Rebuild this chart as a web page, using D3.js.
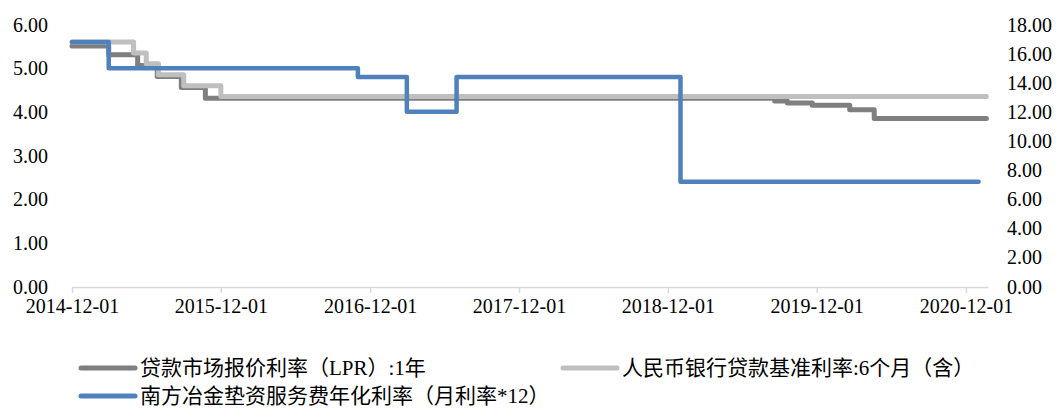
<!DOCTYPE html>
<html>
<head>
<meta charset="utf-8">
<script src="https://cdn.jsdelivr.net/npm/d3@7"></script>
<style>
  body { margin: 0; background: #fff; }
  text { font-family: "Liberation Serif", "Times New Roman", "Noto Sans CJK SC", serif; fill: #000; }
</style>
</head>
<body>
<div class="chart"></div>
<script>
// series: step data (date of change, value)
const lprDates = ["2014-12-01","2015-03-01","2015-05-11","2015-06-28","2015-08-26","2015-10-24","2019-08-20","2019-09-20","2019-11-20","2020-02-20","2020-04-20","2021-01-20"];
const lprValues = [5.51,5.31,5.06,4.81,4.56,4.31,4.25,4.20,4.15,4.05,3.85,3.85];

const baseDates = ["2014-12-01","2015-05-01","2015-06-01","2015-07-01","2015-09-01","2015-12-01","2021-01-20"];
const baseValues = [5.60,5.35,5.10,4.85,4.60,4.35,4.35];

const feeDates = ["2014-12-01","2015-03-01","2016-11-01","2017-03-01","2017-07-01","2019-01-01","2021-01-01"];
const feeValues = [16.8,15.0,14.4,12.0,14.4,7.2,7.2];

const xTicks = ["2014-12-01","2015-12-01","2016-12-01","2017-12-01","2018-12-01","2019-12-01","2020-12-01"];
const leftTicks = [0,1,2,3,4,5,6];
const rightTicks = [0,2,4,6,8,10,12,14,16,18];

const seriesNames = ["贷款市场报价利率（LPR）:1年", "人民币银行贷款基准利率:6个月（含）", "南方冶金垫资服务费年化利率（月利率*12）"];

const width = 1056;
const height = 410;
const parse = d3.timeParse("%Y-%m-%d");

const svg = d3.select('.chart')
  .append('svg')
  .attr('width', width)
  .attr('height', height);

const x = d3.scaleTime()
  .domain([parse("2014-12-01"), parse("2021-01-24")])
  .range([72, 988]);
const yL = d3.scaleLinear().domain([0, 6]).range([286.5, 24.5]);
const yR = d3.scaleLinear().domain([0, 18]).range([286.5, 24.5]);

// x axis
const xAxis = d3.axisBottom(x)
  .tickValues(xTicks.map(parse))
  .tickFormat(d3.timeFormat("%Y-%m-%d"))
  .tickSize(6)
  .tickSizeOuter(0);
const gx = svg.append("g")
  .attr("transform", "translate(0,287)")
  .call(xAxis);
gx.select(".domain").attr("stroke", "#d9d9d9").attr("stroke-width", 1.5);
gx.selectAll(".tick line").attr("stroke", "#d9d9d9").attr("stroke-width", 1.5);
gx.selectAll(".tick text")
  .attr("y", 12)
  .attr("dy", "0.71em")
  .attr("font-size", 20)
  .style("font-family", "Liberation Serif");

// left axis
svg.selectAll("text.left")
  .data(leftTicks)
  .enter()
  .append("text")
  .attr("class", "left")
  .attr("x", 48)
  .attr("y", d => yL(d))
  .attr("dy", "0.35em")
  .attr("text-anchor", "end")
  .attr("font-size", 20)
  .text(d => d.toFixed(2));

// right axis
svg.selectAll("text.right")
  .data(rightTicks)
  .enter()
  .append("text")
  .attr("class", "right")
  .attr("x", 1007)
  .attr("y", d => yR(d))
  .attr("dy", "0.35em")
  .attr("font-size", 20)
  .text(d => d.toFixed(2));

function toPoints(dates, values) {
  return dates.map((d, i) => ({date: parse(d), value: values[i]}));
}

const lineL = d3.line().curve(d3.curveStepAfter).x(d => x(d.date)).y(d => yL(d.value));
const lineR = d3.line().curve(d3.curveStepAfter).x(d => x(d.date)).y(d => yR(d.value));

const colors = ["#7f7f7f", "#bfbfbf", "#4f81bd"];

svg.append("path")
  .datum(toPoints(lprDates, lprValues))
  .attr("d", lineL)
  .attr("fill", "none")
  .attr("stroke", colors[0])
  .attr("stroke-width", 5)
  .attr("stroke-linejoin", "round")
  .attr("stroke-linecap", "round");

svg.append("path")
  .datum(toPoints(baseDates, baseValues))
  .attr("d", lineL)
  .attr("fill", "none")
  .attr("stroke", colors[1])
  .attr("stroke-width", 5)
  .attr("stroke-linejoin", "round")
  .attr("stroke-linecap", "round");

svg.append("path")
  .datum(toPoints(feeDates, feeValues))
  .attr("d", lineR)
  .attr("fill", "none")
  .attr("stroke", colors[2])
  .attr("stroke-width", 4.5)
  .attr("stroke-linejoin", "round")
  .attr("stroke-linecap", "round");

// legend
const legendPos = [[81, 368], [563, 368], [81, 396]];
const legend = svg.selectAll("g.legend")
  .data(seriesNames)
  .enter()
  .append("g")
  .attr("class", "legend")
  .attr("transform", (d, i) => `translate(${legendPos[i][0]},${legendPos[i][1]})`);

legend.append("line")
  .attr("x1", 0)
  .attr("x2", 54)
  .attr("stroke", (d, i) => colors[i])
  .attr("stroke-width", 5)
  .attr("stroke-linecap", "round");

legend.append("text")
  .attr("x", 59)
  .attr("dy", "0.35em")
  .attr("font-size", 21)
  .text(d => d);
</script>
</body>
</html>
